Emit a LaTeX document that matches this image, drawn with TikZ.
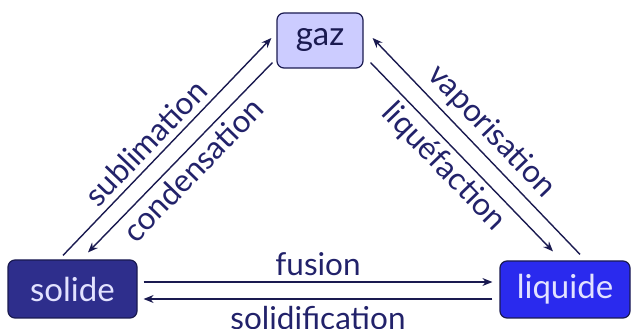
\documentclass[tikz,border=0pt]{standalone}
\usepackage{fontspec}
\setmainfont{Lato}
\usetikzlibrary{arrows.meta}
\definecolor{navy}{HTML}{1A1A50}
\definecolor{txt}{HTML}{22226A}
\definecolor{gazfill}{HTML}{CCCCFF}
\definecolor{solfill}{HTML}{2E2E8C}
\definecolor{liqfill}{HTML}{2A2AEE}
\definecolor{lighttxt}{HTML}{E2E2FF}
\tikzset{
  state/.style={draw=navy, line width=1.2pt, rounded corners=7pt, inner sep=0pt,
    font=\fontsize{33}{38}\selectfont},
  conn/.style={draw=navy, line width=1.4pt, -{Stealth[length=10pt,width=8pt]}},
  lab/.style={font=\fontsize{31.5}{36}\selectfont, text=txt, inner sep=0pt},
}
\begin{document}
\begin{tikzpicture}[x=1pt,y=1pt]
\useasboundingbox (0,0) rectangle (632,329);
\node[state, fill=gazfill, text=navy, minimum width=86pt, minimum height=55pt] (gaz) at (320,288.5) {gaz};
\node[state, fill=solfill, text=lighttxt, minimum width=129pt, minimum height=58pt] (solide) at (72.5,40) {solide};
\node[state, fill=liqfill, text=lighttxt, minimum width=130pt, minimum height=57pt] (liquide) at (565,39.5) {liquide};

\draw[conn] ([shift={(-9.5,4)}]solide.north) -- node[lab, sloped, above=6pt, pos=0.46] (lsub) {sublimation} ([shift={(-5,2.5)}]gaz.west);
\draw[conn] ([shift={(-4,6)}]gaz.south west) -- node[lab, sloped, below=5pt, pos=0.5] (lcond) {condensation} ([shift={(15.5,7)}]solide.north);
\draw[conn] ([shift={(15,6)}]liquide.north) -- node[lab, sloped, above=6pt, pos=0.5] (lvap) {vaporisation} ([shift={(9,2.5)}]gaz.east);
\draw[conn] ([shift={(7,6)}]gaz.south east) -- node[lab, sloped, below=5pt, pos=0.48] (lliq) {liquéfaction} ([shift={(-12,9)}]liquide.north);
\draw[conn] ([shift={(6,7)}]solide.east) -- node[lab, above=6pt] (lfus) {fusion} ([shift={(-7,7.5)}]liquide.west);
\draw[conn] ([shift={(-7,-9.5)}]liquide.west) -- node[lab, below=7pt] (lsol) {solidification} ([shift={(6,-10)}]solide.east);
\end{tikzpicture}
\end{document}
